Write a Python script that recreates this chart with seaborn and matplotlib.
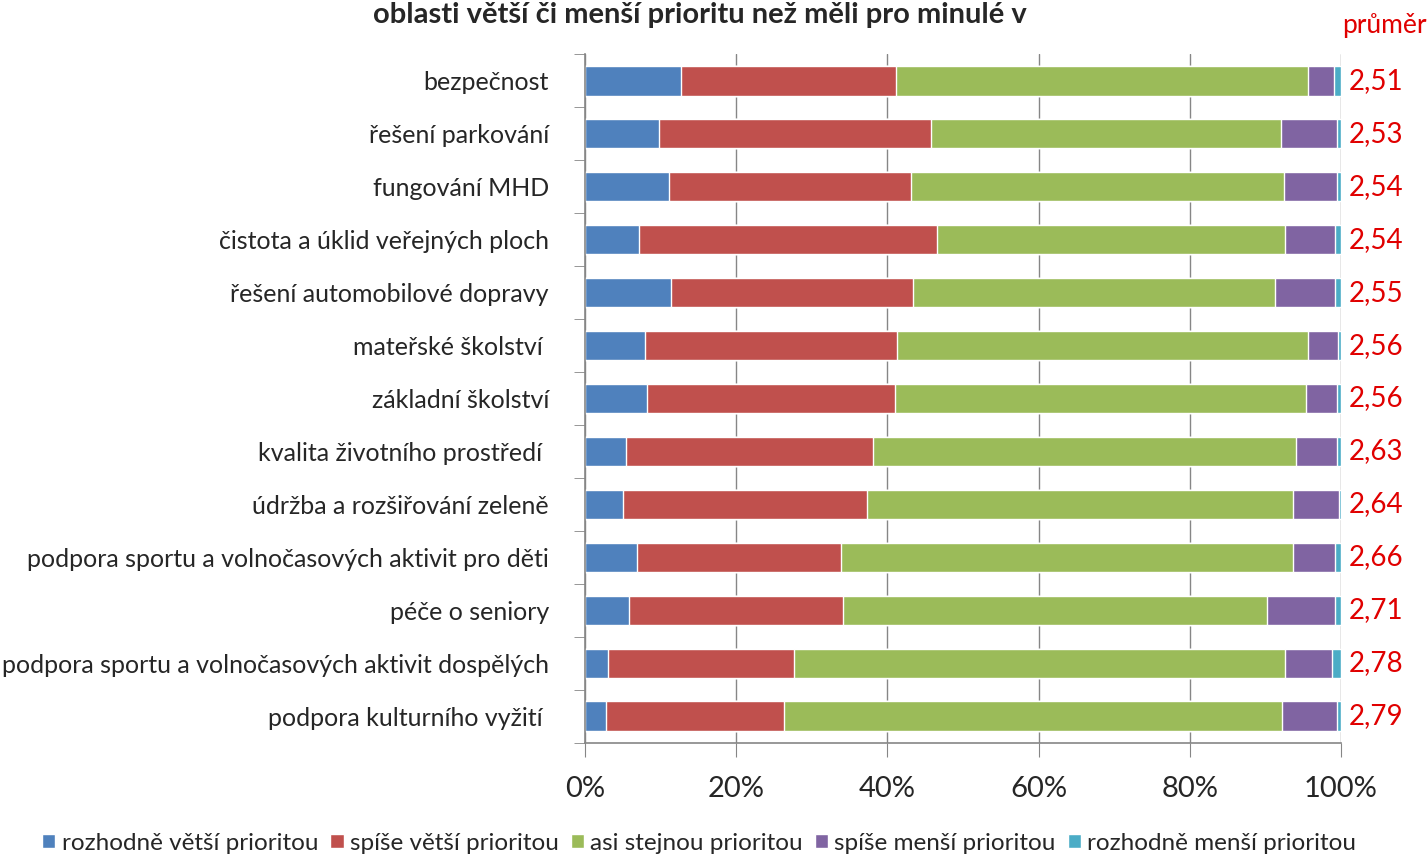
import numpy as np
import pandas as pd
import matplotlib.pyplot as plt
import seaborn as sns
from matplotlib.patches import Patch

# Categories (top to bottom) and shares in % per answer
categories = ['bezpečnost', 'řešení parkování', 'fungování MHD',
              'čistota a úklid veřejných ploch', 'řešení automobilové dopravy',
              'mateřské školství ', 'základní školství',
              'kvalita životního prostředí ', 'údržba a rozšiřování zeleně',
              'podpora sportu a volnočasových aktivit pro děti', 'péče o seniory',
              'podpora sportu a volnočasových aktivit dospělých',
              'podpora kulturního vyžití ']

series = ['rozhodně větší prioritou', 'spíše větší prioritou',
          'asi stejnou prioritou', 'spíše menší prioritou', 'rozhodně menší prioritou']

rozhodne_vetsi = [12.7, 9.8, 11.1, 7.1, 11.4, 7.9, 8.2, 5.4, 5.0, 6.9, 5.8, 3.0, 2.8]
spise_vetsi = [28.4, 36.0, 32.0, 39.5, 32.0, 33.4, 32.8, 32.7, 32.3, 27.0, 28.3, 24.6, 23.5]
asi_stejnou = [54.5, 46.3, 49.4, 46.0, 47.9, 54.3, 54.4, 55.9, 56.4, 59.8, 56.1, 65.0, 65.9]
spise_mensi = [3.5, 7.4, 7.0, 6.6, 7.9, 4.0, 4.1, 5.5, 6.0, 5.5, 9.0, 6.2, 7.3]
rozhodne_mensi = [0.9, 0.5, 0.5, 0.8, 0.8, 0.4, 0.5, 0.5, 0.3, 0.8, 0.8, 1.2, 0.5]

prumer = ['2,51', '2,53', '2,54', '2,54', '2,55', '2,56', '2,56',
          '2,63', '2,64', '2,66', '2,71', '2,78', '2,79']

colors = ['#4F81BD', '#C0504D', '#9BBB59', '#8064A2', '#4BACC6']

df = pd.DataFrame({'oblast': categories,
                   series[0]: rozhodne_vetsi, series[1]: spise_vetsi,
                   series[2]: asi_stejnou, series[3]: spise_mensi,
                   series[4]: rozhodne_mensi})

sns.set_style('white')
plt.rcParams['font.family'] = ['Lato', 'DejaVu Sans']

fig = plt.figure(figsize=(14.27, 8.55), dpi=100)
ax = fig.add_axes([585 / 1427, 1 - 742.5 / 855, 756 / 1427, 688 / 855])

# stacked bars: draw cumulative totals, widest first
cum = df[series].cumsum(axis=1)
for i in reversed(range(len(series))):
    sns.barplot(x=cum[series[i]], y=df['oblast'], color=colors[i], orient='h',
                width=0.55, saturation=1, ax=ax)

ax.set_xlim(0, 100)
ax.set_ylim(len(categories) - 0.5, -0.5)
ax.set_xlabel('')
ax.set_ylabel('')
ax.set_xticks(range(0, 101, 20))
ax.set_xticklabels([f'{v}%' for v in range(0, 101, 20)], fontsize=21)
ax.xaxis.grid(True, color='#868686', lw=1)
ax.set_axisbelow(True)

for s in ['top', 'right']:
    ax.spines[s].set_visible(False)
for s in ['left', 'bottom']:
    ax.spines[s].set_color('#868686')
    ax.spines[s].set_linewidth(1.2)

ax.tick_params(axis='x', direction='out', length=10, color='#868686', pad=14, bottom=True)
ax.tick_params(axis='y', which='major', length=0, pad=26, labelsize=18)
ax.set_yticks(np.arange(-0.5, len(categories), 1), minor=True)
ax.tick_params(axis='y', which='minor', direction='out', length=8, color='#868686', left=True)

# averages on the right
for i, val in enumerate(prumer):
    ax.text(1 + 8 / 756, i, val, transform=ax.get_yaxis_transform(),
            color='#E00000', fontsize=20, va='center', ha='left')
fig.text(1342 / 1427, 1 - 25 / 855, 'průměr', color='#E00000', fontsize=19,
         va='center', ha='left')

fig.text(700 / 1427, 1 - 2 / 855,
         'oblasti větší či menší prioritu než měli pro minulé v',
         fontsize=21, fontweight='bold', ha='center', va='top')

handles = [Patch(facecolor=c, label=s) for c, s in zip(colors, series)]
fig.legend(handles=handles, loc='center', bbox_to_anchor=(0.49, 1 - 843 / 855),
           ncol=5, frameon=False, fontsize=17.5, handlelength=0.55, handleheight=0.55,
           handletextpad=0.25, columnspacing=0.5, borderpad=0)

fig.savefig('out.png', dpi=100)
